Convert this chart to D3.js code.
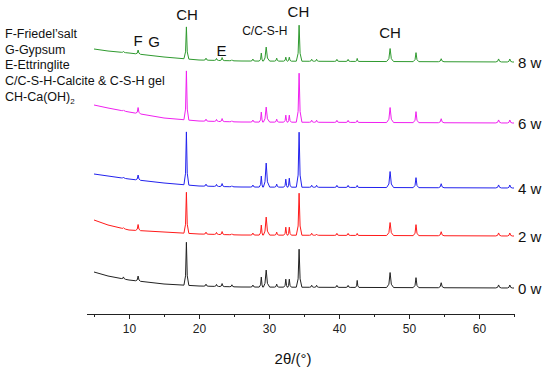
<!DOCTYPE html>
<html>
<head>
<meta charset="utf-8">
<script src="https://cdn.jsdelivr.net/npm/d3@7"></script>
<style>
  body { margin: 0; background: #fff; }
  svg { display: block; font-family: "Liberation Sans", Arial, sans-serif; }
</style>
</head>
<body>
<svg id="chart"></svg>
<script>
const width = 550;
const height = 371;

// series (bottom to top)
const seriesNames = ['0 w', '2 w', '4 w', '6 w', '8 w'];
const seriesColors = ['#222222', '#ff1a1a', '#2222ee', '#f020f0', '#2f9a2f'];

// background (angle, intensity a.u.)
const baseAngles = [5, 7, 10, 15, 20, 26, 65];
const base0 = [42, 38, 34, 30, 28, 27, 26];
const base2 = [94, 89, 84, 82, 80, 79, 78];
const base4 = [140, 138, 135, 131, 128, 127, 126];
const base6 = [209, 206, 202, 196, 193, 192, 191];
const base8 = [265, 263, 261, 257, 254, 253, 252];

// peak positions (2θ) and half widths
const peakAngles = [9.2, 11.3, 18.2, 21.0, 22.5, 23.3, 24.7, 27.7, 28.9, 29.6, 31.1, 32.4, 32.9, 34.3, 36.1, 36.8, 39.7, 41.3, 42.6, 47.3, 51.0, 54.6, 62.8, 64.4];
const peakWidths = [0.3, 0.35, 0.35, 0.3, 0.3, 0.3, 0.3, 0.3, 0.3, 0.5, 0.3, 0.3, 0.3, 0.4, 0.3, 0.3, 0.3, 0.3, 0.25, 0.5, 0.4, 0.4, 0.4, 0.35];

// peak heights above background
const peaks0 = [2, 5, 43, 2, 2, 3, 2, 2, 10, 17, 3, 8, 8, 38, 2, 2, 2, 2, 7, 15, 10, 5, 3, 3];
const peaks2 = [1, 6, 41, 2, 2, 3, 1, 2, 10, 18, 3, 8, 8, 42, 2, 1, 2, 2, 2, 13, 11, 4, 3, 3];
const peaks4 = [1, 5, 53, 2, 2, 3, 1, 2, 11, 24, 3, 8, 9, 55, 2, 2, 2, 2, 2, 16, 10, 4, 3, 3];
const peaks6 = [1, 6, 49, 2, 2, 3, 1, 2, 10, 15, 3, 7, 7, 49, 2, 2, 2, 2, 2, 15, 11, 4, 3, 3];
const peaks8 = [1, 4, 32, 2, 2, 3, 1, 2, 8, 14, 3, 4, 4, 36, 2, 2, 2, 2, 3, 13, 9, 3, 3, 3];

const xTicks = [10, 20, 30, 40, 50, 60];
const xMinorTicks = [5, 15, 25, 35, 45, 55, 65];

const legendLines = ['F-Friedel\u2019salt', 'G-Gypsum', 'E-Ettringlite', 'C/C-S-H-Calcite & C-S-H gel'];

const phaseLabels = [
    {text: 'F', x: 11.3, y: 268, size: 15},
    {text: 'G', x: 13.6, y: 267, size: 15},
    {text: 'CH', x: 18.3, y: 294, size: 15},
    {text: 'E', x: 23.2, y: 258, size: 15},
    {text: 'C/C-S-H', x: 29.4, y: 279, size: 12},
    {text: 'CH', x: 34.2, y: 297, size: 15},
    {text: 'CH', x: 47.3, y: 276, size: 15}
];

const bases = [base0, base2, base4, base6, base8];
const peaks = [peaks0, peaks2, peaks4, peaks6, peaks8];

const svg = d3.select('#chart')
    .attr('width', width)
    .attr('height', height);

const x = d3.scaleLinear().domain([4, 65]).range([87, 514]);
const y = d3.scaleLinear().domain([0, 300]).range([314, 14]);

function buildPoints(i) {
    const bg = d3.scaleLinear().domain(baseAngles).range(bases[i]);
    let pts = [];
    baseAngles.forEach(a => {
        const inside = peakAngles.some((p, j) => Math.abs(a - p) < peakWidths[j]);
        if (!inside) pts.push([a, bg(a)]);
    });
    peakAngles.forEach((p, j) => {
        const w = peakWidths[j];
        const h = peaks[i][j];
        pts.push([p - w, bg(p - w)]);
        pts.push([p - w * 0.35, bg(p) + h * 0.22]);
        pts.push([p, bg(p) + h]);
        pts.push([p + w * 0.35, bg(p) + h * 0.22]);
        pts.push([p + w, bg(p + w)]);
    });
    pts.sort((a, b) => a[0] - b[0]);
    return pts;
}

const line = d3.line()
    .x(d => x(d[0]))
    .y(d => y(d[1]));

seriesNames.forEach((name, i) => {
    const pts = buildPoints(i);
    svg.append('path')
        .datum(pts)
        .attr('fill', 'none')
        .attr('stroke', seriesColors[i])
        .attr('stroke-width', 1)
        .attr('stroke-linejoin', 'round')
        .attr('d', line);

    svg.append('text')
        .attr('x', 518)
        .attr('y', y(bases[i][bases[i].length - 1]) + 6)
        .attr('font-size', 15)
        .attr('fill', '#111')
        .text(name);
});

// x axis
const xAxis = svg.append('g').attr('transform', `translate(0, 314)`);
xAxis.call(d3.axisBottom(x).tickValues(xTicks).tickSize(5).tickPadding(5).tickFormat(d3.format('d')));
xAxis.select('.domain').attr('d', `M${x(4)},0.5H${x(65)}`).attr('stroke', '#222');
xAxis.selectAll('.tick line').attr('stroke', '#222');
xAxis.selectAll('.tick text')
    .attr('font-family', '"Liberation Sans", Arial, sans-serif')
    .attr('font-size', 12)
    .attr('fill', '#222');

svg.append('g').selectAll('line').data(xMinorTicks).enter()
    .append('line')
    .attr('x1', d => x(d) + 0.5).attr('x2', d => x(d) + 0.5)
    .attr('y1', 314).attr('y2', 317)
    .attr('stroke', '#222');

svg.append('text')
    .attr('x', 293)
    .attr('y', 364)
    .attr('text-anchor', 'middle')
    .attr('font-size', 15)
    .attr('fill', '#111')
    .text('2\u03b8/(\u00b0)');

// legend text
legendLines.forEach((t, i) => {
    svg.append('text')
        .attr('x', 5)
        .attr('y', 38 + i * 15.5)
        .attr('font-size', 12.5)
        .attr('fill', '#111')
        .text(t);
});
const chText = svg.append('text')
    .attr('x', 5)
    .attr('y', 101)
    .attr('font-size', 12.5)
    .attr('fill', '#111');
chText.append('tspan').text('CH-Ca(OH)');
chText.append('tspan').attr('font-size', 8).attr('dy', 3).text('2');

// phase labels
phaseLabels.forEach(d => {
    svg.append('text')
        .attr('x', x(d.x))
        .attr('y', y(d.y))
        .attr('text-anchor', 'middle')
        .attr('font-size', d.size)
        .attr('fill', '#111')
        .text(d.text);
});
</script>
</body>
</html>
